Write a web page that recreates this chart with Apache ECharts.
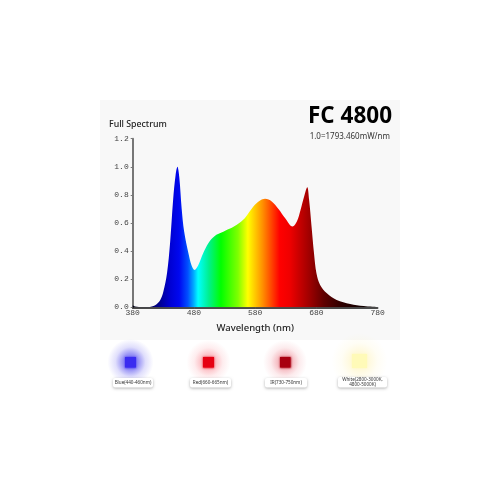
<!DOCTYPE html>
<html><head><meta charset="utf-8">
<style>html,body{margin:0;padding:0;background:#fff}#c{width:500px;height:500px}</style>
<script src="https://cdn.jsdelivr.net/npm/echarts@6/dist/echarts.min.js"></script></head>
<body><div id="c"></div>
<script>
var wavelengths=[380,384,390,400,408,414,419,425,430,436,441,446,450,453,456,460,464,471,476,481,487,495,504,514,525,531,539,550,563,577,588,596,607,618,629,641,648,654,660,665,668,672,676,680,686,697,713,735,757,780];
var intensity=[0.012,0.006,0.003,0.002,0.003,0.009,0.022,0.052,0.11,0.242,0.457,0.765,0.94,1.0,0.93,0.70,0.54,0.385,0.30,0.266,0.30,0.385,0.46,0.508,0.532,0.545,0.56,0.587,0.634,0.717,0.76,0.772,0.753,0.70,0.634,0.575,0.61,0.693,0.79,0.855,0.765,0.575,0.385,0.242,0.159,0.10,0.052,0.024,0.009,0.002];
var xTicks=[380,480,580,680,780];
var yTicks=[0,0.2,0.4,0.6,0.8,1.0,1.2];
var legendNames=['Blue(440-460nm)','Red(660-665nm)','IR(730-750nm)','White(2800-3000K,\n4800-5000K)'];
var title='FC 4800', subtitle='1.0=1793.460mW/nm', yName='Full Spectrum', xName='Wavelength (nm)';
var points=wavelengths.map(function(w,i){return [w,intensity[i]];});
function halo(cx,cy,r,rgb,a){
  return {type:'circle',silent:true,shape:{cx:cx,cy:cy,r:r},style:{fill:new echarts.graphic.RadialGradient(0.5,0.5,0.5,[
    {offset:0,color:'rgba('+rgb+','+a+')'},{offset:0.35,color:'rgba('+rgb+','+a*0.7+')'},{offset:0.65,color:'rgba('+rgb+','+a*0.22+')'},{offset:1,color:'rgba('+rgb+',0)'}])}};
}
function swatch(x,y,w,h,fill){
  return {type:'rect',shape:{x:x,y:y,width:w,height:h},style:{fill:fill,shadowBlur:2,shadowColor:fill}};
}
function tag(x,y,w,h,text){
  return {type:'group',children:[
    {type:'rect',shape:{x:x,y:y,width:w,height:h,r:2},style:{fill:'#fff',shadowBlur:3,shadowColor:'rgba(0,0,0,0.3)',shadowOffsetY:1}},
    {type:'text',style:{x:x+w/2,y:y+h/2,text:text,align:'center',verticalAlign:'middle',fontSize:4.6,lineHeight:4.6,fontFamily:'Noto Sans',fill:'#333'}}
  ]};
}
var chart=echarts.init(document.getElementById('c'),null,{renderer:'canvas'});
chart.setOption({
  animation:false,
  backgroundColor:'#fff',
  grid:{left:132.7,top:138.7,width:245,height:168.6,containLabel:false},
  xAxis:{type:'value',min:380,max:780,interval:100,
    axisLine:{onZero:false,lineStyle:{color:'#111',width:1.5}},
    axisTick:{show:true,length:1.5,lineStyle:{color:'#555'}},splitLine:{show:false},
    axisLabel:{margin:2,fontSize:8,fontFamily:'Liberation Mono',color:'#444',showMinLabel:true,showMaxLabel:true,customValues:xTicks},
    name:xName,nameLocation:'middle',nameGap:16,nameTextStyle:{fontSize:9.5,fontFamily:'Noto Sans',fontWeight:500,color:'#222'}},
  yAxis:{type:'value',min:0,max:1.2,interval:0.2,
    axisLine:{show:true,lineStyle:{color:'#777',width:2}},
    axisTick:{show:true,length:2,lineStyle:{color:'#777'}},splitLine:{show:false},
    axisLabel:{margin:4,fontSize:8,fontFamily:'Liberation Mono',color:'#444',formatter:function(v){return v.toFixed(1);}}},
  series:[{type:'line',data:points,smooth:0.35,symbol:'none',silent:true,
    lineStyle:{width:0},
    areaStyle:{opacity:1,color:new echarts.graphic.LinearGradient(0,0,1,0,[
      {offset:0,color:'#000010'},{offset:0.07,color:'#000060'},{offset:0.11,color:'#000090'},{offset:0.15,color:'#0000d0'},{offset:0.19,color:'#0008f0'},
      {offset:0.225,color:'#0050ff'},{offset:0.25,color:'#00b0ff'},{offset:0.267,color:'#00ffff'},{offset:0.31,color:'#00f090'},
      {offset:0.36,color:'#00ff00'},{offset:0.43,color:'#80ff00'},{offset:0.47,color:'#ffff00'},{offset:0.53,color:'#ff9000'},
      {offset:0.60,color:'#ff0000'},{offset:0.64,color:'#f00000'},{offset:0.72,color:'#a00000'},{offset:0.78,color:'#600000'},
      {offset:0.85,color:'#300000'},{offset:0.93,color:'#140000'},{offset:1,color:'#000000'}])}
  }],
  graphic:{elements:[
    {type:'rect',z:-10,silent:true,shape:{x:100,y:100,width:300,height:240},style:{fill:'#f8f8f8'}},
    {type:'text',style:{x:392,y:116.5,text:title,align:'right',verticalAlign:'middle',fontSize:22.5,fontWeight:'bold',fontFamily:'Open Sans',fill:'#000'}},
    {type:'text',style:{x:390,y:137,text:subtitle,align:'right',verticalAlign:'middle',fontSize:8,fontFamily:'Noto Sans',fill:'#333'}},
    {type:'text',style:{x:109,y:124,text:yName,align:'left',verticalAlign:'middle',fontSize:8.8,fontWeight:500,fontFamily:'Noto Sans',fill:'#222'}},
    halo(130.5,362,23,'50,40,235',0.7),
    halo(208.5,362,22,'245,30,50',0.38),
    halo(285,362,22,'225,40,60',0.42),
    halo(359.5,361,28,'255,240,170',0.55),
    swatch(125,357,11,10.5,'#3a2cf0'),
    swatch(203,357,11,10.5,'#e60012'),
    swatch(280,357,10.5,10.5,'#a80010'),
    swatch(352,354,15,14,'#fffab8'),
    tag(113,378,40,9.5,legendNames[0]),
    tag(190,378,41,9.5,legendNames[1]),
    tag(265,378,42,9.5,legendNames[2]),
    tag(338,377,49,10.5,legendNames[3])
  ]}
});
</script></body></html>
